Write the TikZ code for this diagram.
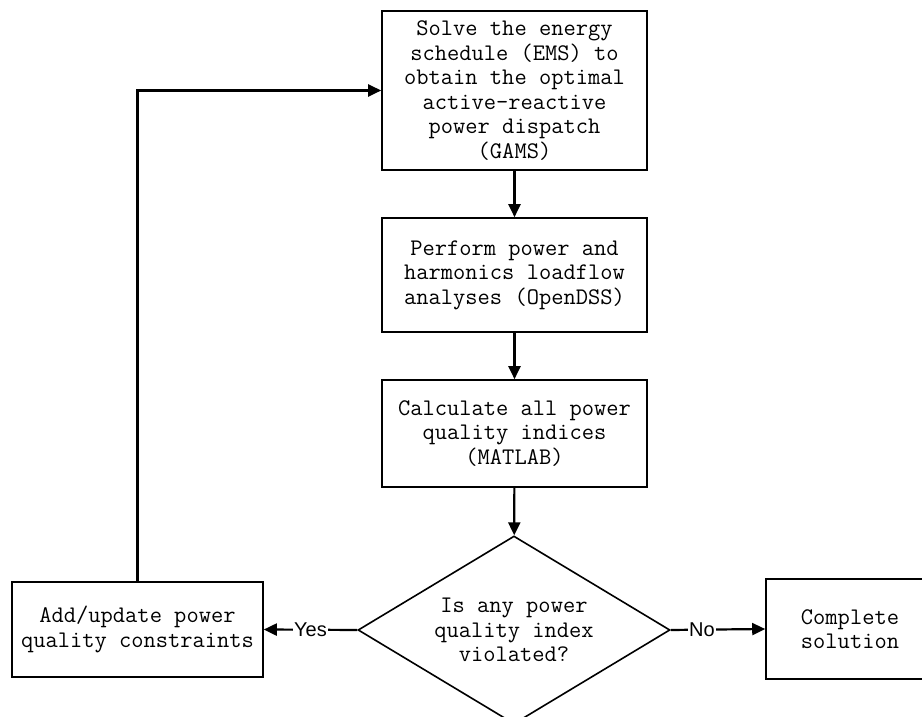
\documentclass[tikz,border=0pt]{standalone}
\usepackage{fontspec}
\setsansfont{Liberation Sans}
\usetikzlibrary{shapes.geometric,arrows.meta}

\begin{document}
\begin{tikzpicture}[x=1pt, y=1pt,
    stepbox/.style={draw, line width=1.6pt, align=center, inner sep=0pt,
      font=\ttfamily\fontsize{23.8}{24.5}\selectfont},
    flow/.style={line width=2.2pt, -{Triangle[length=13pt,width=12pt]}},
    lbl/.style={fill=white, inner sep=1pt, font=\sffamily\fontsize{20}{20}\selectfont}]
        \clip (0,0) rectangle (922,717);
        \fill[white] (0,0) rectangle (922,717);
        \node[stepbox, minimum width=265, minimum height=159] (ems) at (514.5,626.5)
          {Solve the energy\\schedule (EMS) to\\obtain the optimal\\active-reactive\\power dispatch\\(GAMS)};
        \node[stepbox, minimum width=265, minimum height=114] (flow) at (514.5,442)
          {Perform power and\\harmonics loadflow\\analyses (OpenDSS)};
        \node[stepbox, minimum width=265, minimum height=107] (pqi) at (514.5,283.5)
          {Calculate all power\\quality indices\\(MATLAB)};
        \node[stepbox, diamond, aspect=1.66, minimum width=312, minimum height=188] (check) at (514,87)
          {Is any power\\quality index\\violated?};
        \node[stepbox, minimum width=251, minimum height=95] (update) at (137.5,87.5)
          {Add/update power\\quality constraints};
        \node[stepbox, minimum width=168, minimum height=100] (done) at (850,88)
          {Complete\\solution};
        \draw[flow] (ems) -- (flow);
        \draw[flow] (flow) -- (pqi);
        \draw[flow] (pqi) -- (check);
        \draw[flow] (check.west) -- node[lbl, pos=0.5] {Yes} (update.east);
        \draw[flow] (check.east) -- node[lbl, pos=0.33] {No} (done.west);
        \draw[flow] (update.north) |- (ems.west);
      \end{tikzpicture}
\end{document}
